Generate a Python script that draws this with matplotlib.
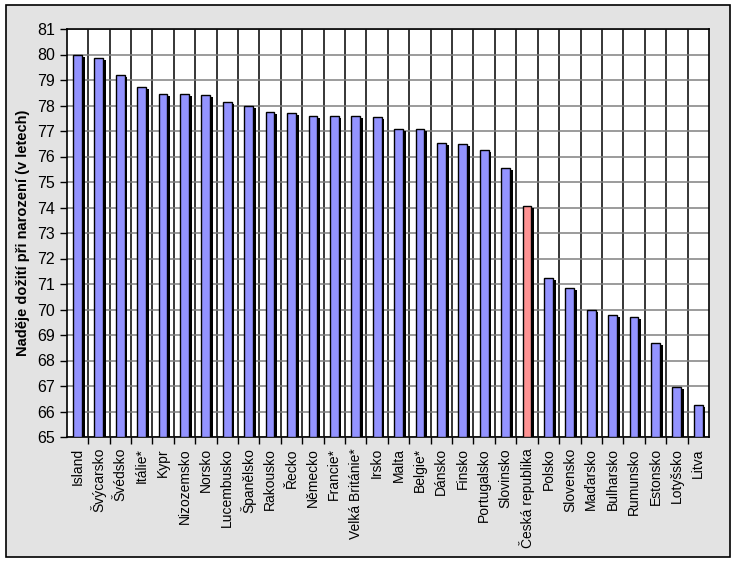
import numpy as np
import matplotlib.pyplot as plt
from matplotlib.patches import Rectangle

plt.rcParams['font.family'] = ['Liberation Sans', 'DejaVu Sans']

# Countries and life expectancy at birth (years)
countries = ["Island", "Švýcarsko", "Švédsko", "Itálie*", "Kypr", "Nizozemsko",
             "Norsko", "Lucembusko", "Španělsko", "Rakousko", "Řecko", "Německo",
             "Francie*", "Velká Británie*", "Irsko", "Malta", "Belgie*", "Dánsko",
             "Finsko", "Portugalsko", "Slovinsko", "Česká republika", "Polsko",
             "Slovensko", "Maďarsko", "Bulharsko", "Rumunsko", "Estonsko",
             "Lotyšsko", "Litva"]
values = [79.97, 79.85, 79.18, 78.71, 78.44, 78.44, 78.40, 78.12, 78.00, 77.73,
          77.69, 77.60, 77.60, 77.58, 77.54, 77.07, 77.07, 76.52, 76.48, 76.24,
          75.54, 74.05, 71.22, 70.83, 69.97, 69.77, 69.69, 68.67, 66.95, 66.24]
highlight = "Česká republika"

base = 65
x = np.arange(len(countries))
vals = np.array(values)
colors = ['#ff9393' if c == highlight else '#9393ff' for c in countries]

fig = plt.figure(figsize=(7.36, 5.62), dpi=100)
fig.patch.set_facecolor('white')
fig.patches.append(Rectangle((6 / 736, 1 - 557 / 562), 724 / 736, 552 / 562,
                             transform=fig.transFigure, facecolor='#e3e3e3',
                             edgecolor='black', lw=1.2, zorder=-10))

ax = fig.add_axes([66.7 / 736, 1 - 437 / 562, (709 - 66.7) / 736, 408 / 562])
ax.set_facecolor('white')

w = 0.41
# shadow behind each bar
ax.bar(x + 0.13, vals - base - 0.08, bottom=base, width=w, color='black',
       zorder=2)
ax.bar(x, vals - base, bottom=base, width=w, color=colors, edgecolor='black',
       linewidth=1, zorder=3)

ax.set_xlim(-0.5, len(countries) - 0.5)
ax.set_ylim(65, 81)
ax.set_yticks(np.arange(65, 82, 1))
ax.tick_params(axis='y', labelsize=11.5, length=5, width=1, direction='out')

ax.set_xticks(np.arange(0.5, len(countries) - 0.5, 1))
ax.set_xticks(x, minor=True)
ax.set_xticklabels([])
ax.set_xticklabels(countries, minor=True, rotation=90, fontsize=10, va='top')
ax.tick_params(axis='x', which='major', length=5, width=1, direction='out')
ax.tick_params(axis='x', which='minor', length=0, pad=8)

ax.grid(axis='y', color='#808080', lw=1.1, zorder=1)
ax.grid(axis='x', which='major', color='black', lw=1.1, zorder=1)
ax.set_axisbelow(True)
for s in ax.spines.values():
    s.set_linewidth(1.2)

ax.set_ylabel("Naděje dožití při narození (v letech)", fontsize=10.5,
              fontweight='bold', labelpad=5)

fig.savefig("out.png", dpi=100)
